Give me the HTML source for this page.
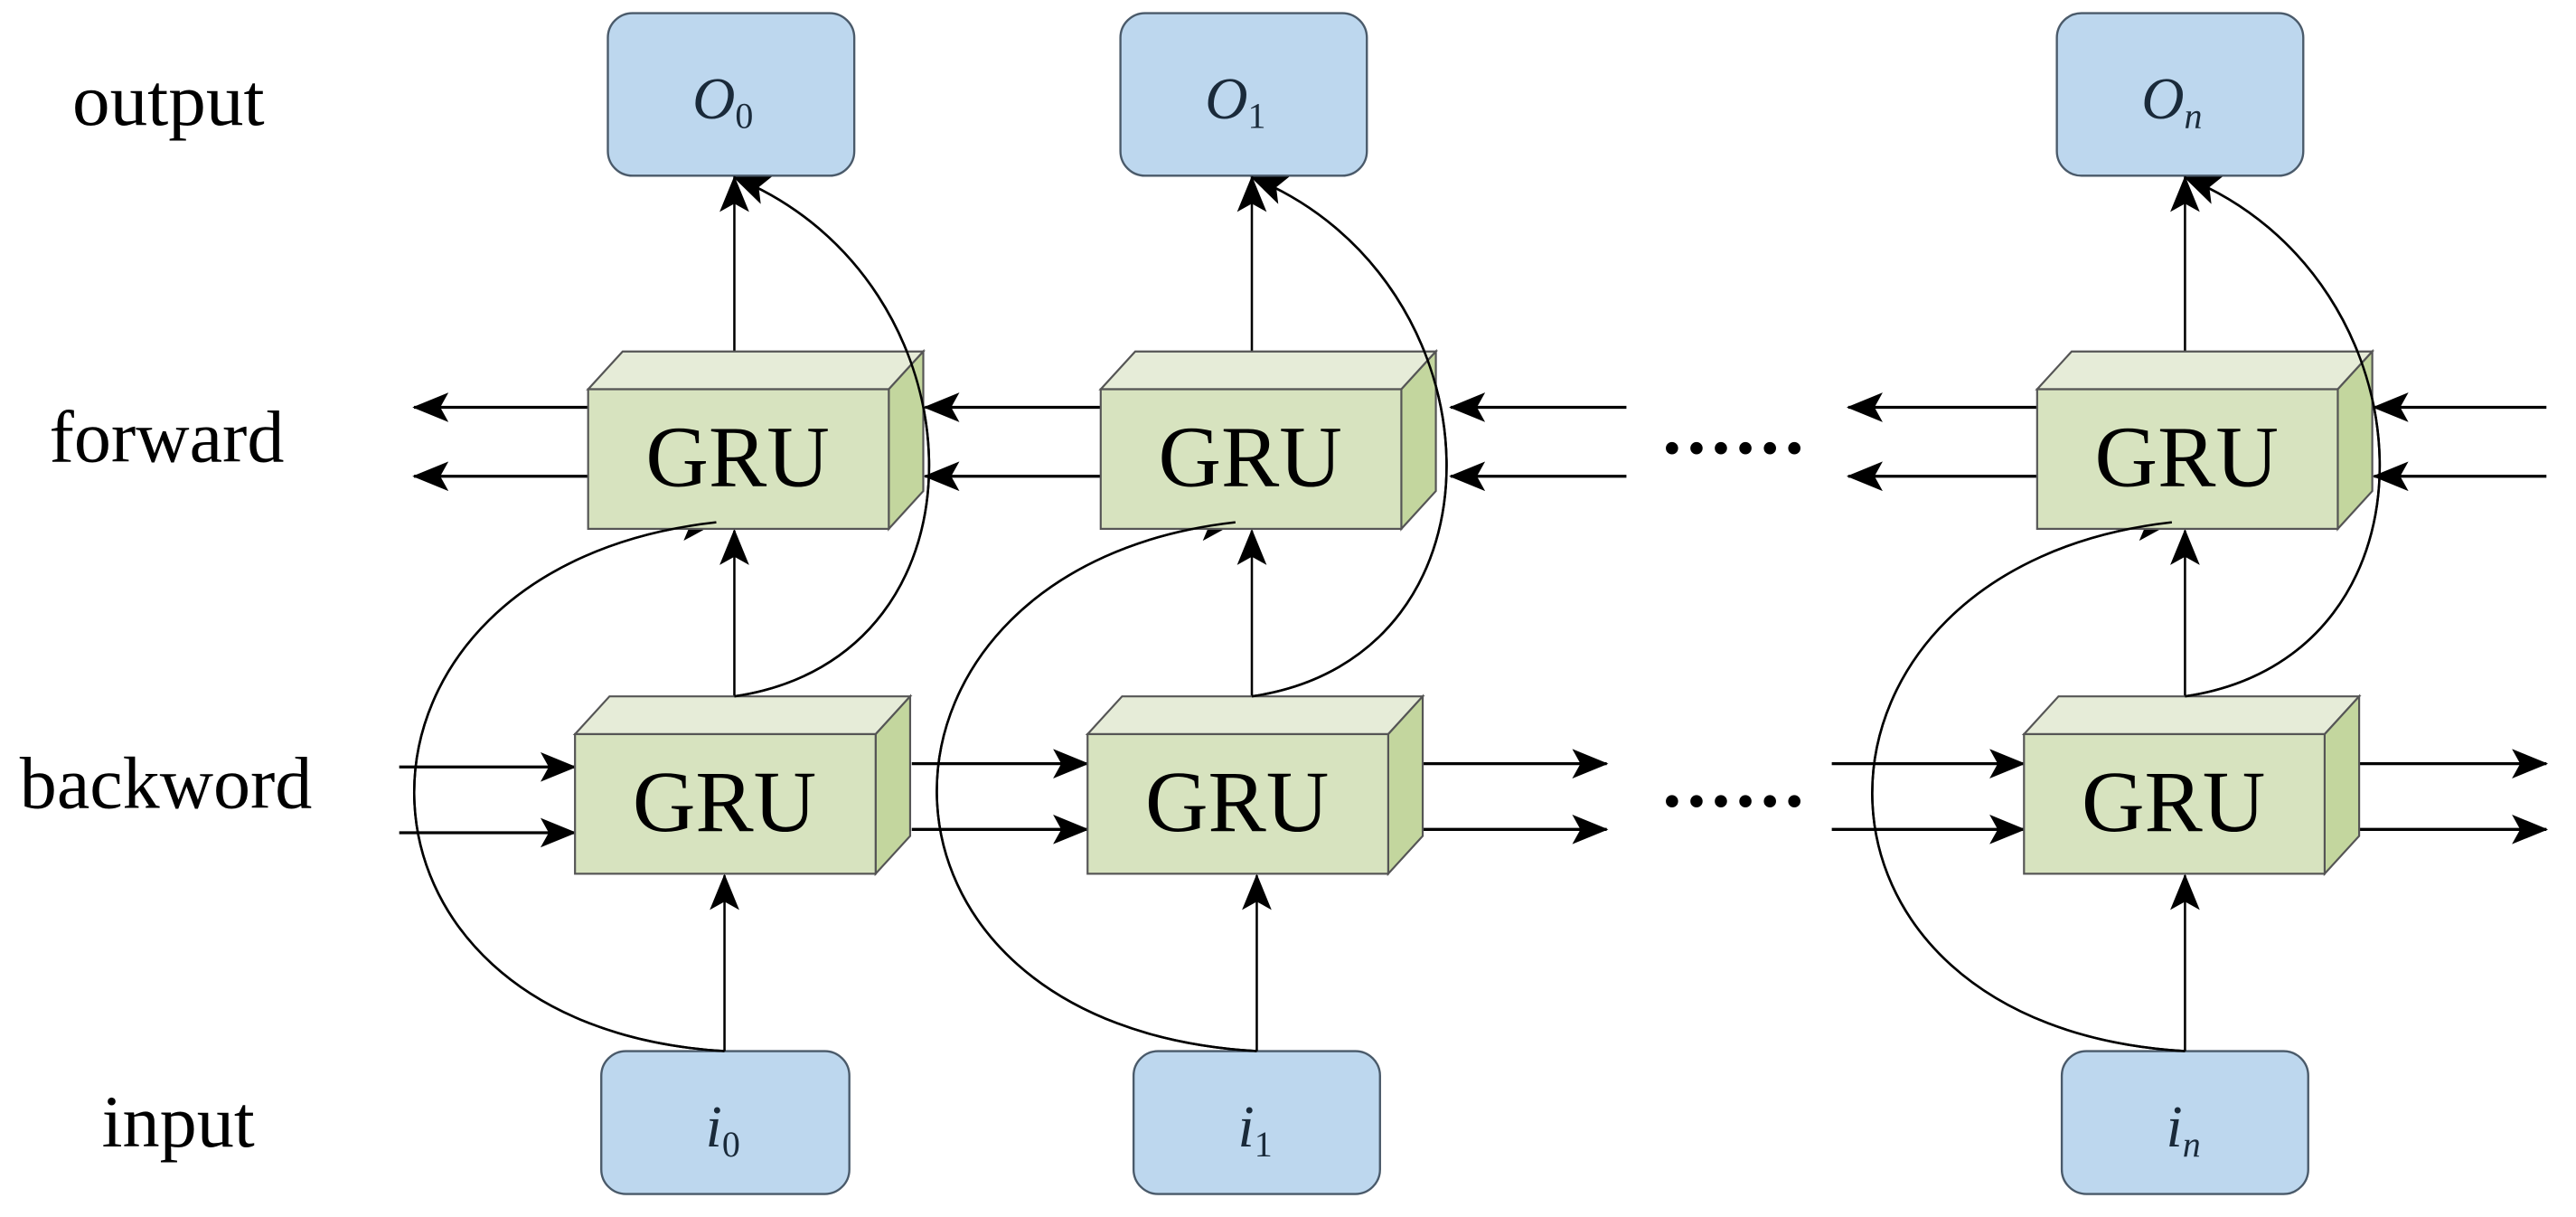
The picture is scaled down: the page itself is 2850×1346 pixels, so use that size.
<!DOCTYPE html>
<html><head><meta charset="utf-8"><style>html,body{margin:0;padding:0;background:#fff}svg{display:block}</style></head>
<body>
<svg width="2850" height="1346" viewBox="0 0 1568 741" preserveAspectRatio="none" xmlns="http://www.w3.org/2000/svg">
<defs>
<marker id="a" markerUnits="userSpaceOnUse" markerWidth="24" markerHeight="20" refX="21" refY="9" orient="auto">
<path d="M0,0 L22,9 L0,18 L5,9 Z" fill="#000"/>
</marker>
<g id="gru">
<path d="M0,0 L21,-23 L204,-23 L183,0 Z" fill="#e6ecd8" stroke="#555" stroke-width="1.2"/>
<path d="M183,0 L204,-23 L204,62 L183,85 Z" fill="#c3d69e" stroke="#555" stroke-width="1.2"/>
<rect x="0" y="0" width="183" height="85" fill="#d7e3bf" stroke="#555" stroke-width="1.2"/>
<text x="91" y="59" font-family="Liberation Serif, serif" font-size="53" text-anchor="middle">GRU</text>
</g>
</defs>
<rect width="1568" height="741" fill="#fff"/>
<g font-family="Liberation Serif, serif" font-size="45" fill="#000">
<text x="44" y="76" textLength="117" lengthAdjust="spacingAndGlyphs">output</text>
<text x="30" y="281" textLength="143" lengthAdjust="spacingAndGlyphs">forward</text>
<text x="12" y="492" textLength="178" lengthAdjust="spacingAndGlyphs">backword</text>
<text x="62" y="698" textLength="93" lengthAdjust="spacingAndGlyphs">input</text>
</g>
<g fill="#bdd7ee" stroke="#4a5a6a" stroke-width="1.3">
<rect x="370" y="8" width="150" height="99" rx="15"/>
<rect x="682" y="8" width="150" height="99" rx="15"/>
<rect x="1252" y="8" width="150" height="99" rx="15"/>
<rect x="366" y="640" width="151" height="87" rx="15"/>
<rect x="690" y="640" width="150" height="87" rx="15"/>
<rect x="1255" y="640" width="150" height="87" rx="15"/>
</g>
<g font-family="Liberation Serif, serif" font-style="italic" font-size="36" fill="#1a2a3a" text-anchor="middle">
<text x="440" y="72">O<tspan font-size="22" font-style="normal" dy="6">0</tspan></text>
<text x="752" y="72">O<tspan font-size="22" font-style="normal" dy="6">1</tspan></text>
<text x="1322" y="72">O<tspan font-size="22" dy="6">n</tspan></text>
<text x="440" y="698">i<tspan font-size="22" font-style="normal" dy="6">0</tspan></text>
<text x="764" y="698">i<tspan font-size="22" font-style="normal" dy="6">1</tspan></text>
<text x="1329" y="698">i<tspan font-size="22" dy="6">n</tspan></text>
</g>
<g stroke="#000" stroke-width="1.8" fill="none" marker-end="url(#a)">
<path d="M358,248 H252"/><path d="M358,290 H252"/>
<path d="M670,248 H563"/><path d="M670,290 H563"/>
<path d="M990,248 H883"/><path d="M990,290 H883"/>
<path d="M1240,248 H1125"/><path d="M1240,290 H1125"/>
<path d="M1550,248 H1445"/><path d="M1550,290 H1445"/>
<path d="M243,467 H350"/><path d="M243,507 H350"/>
<path d="M555,465 H662"/><path d="M555,505 H662"/>
<path d="M866,465 H978"/><path d="M866,505 H978"/>
<path d="M1115,465 H1232"/><path d="M1115,505 H1232"/>
<path d="M1436,465 H1550"/><path d="M1436,505 H1550"/>
</g>
<g stroke="#000" stroke-width="1.4" fill="none" marker-end="url(#a)">
<path d="M441,640 V533"/>
<path d="M447,424 V323"/>
<path d="M447,214 V108"/>
<path d="M441,640 C190,625 190,345 436,318"/>
<path d="M447,424 C610,400 600,170 447,108"/>
<path d="M765,640 V533"/>
<path d="M762,424 V323"/>
<path d="M762,214 V108"/>
<path d="M765,640 C505,625 510,345 752,318"/>
<path d="M762,424 C925,400 915,170 762,108"/>
<path d="M1330,640 V533"/>
<path d="M1330,424 V323"/>
<path d="M1330,214 V108"/>
<path d="M1330,640 C1075,625 1080,345 1322,318"/>
<path d="M1330,424 C1493,400 1483,170 1330,108"/>
</g>
<use href="#gru" x="358" y="237"/>
<use href="#gru" x="670" y="237"/>
<use href="#gru" x="1240" y="237"/>
<use href="#gru" x="350" y="447"/>
<use href="#gru" x="662" y="447"/>
<use href="#gru" x="1232" y="447"/>
<g stroke="#000" stroke-width="1.4" fill="none">
<path d="M441,640 C190,625 190,345 436,318"/>
<path d="M447,424 C610,400 600,170 447,108"/>
<path d="M765,640 C505,625 510,345 752,318"/>
<path d="M762,424 C925,400 915,170 762,108"/>
<path d="M1330,640 C1075,625 1080,345 1322,318"/>
<path d="M1330,424 C1493,400 1483,170 1330,108"/>
</g>
<g font-family="Liberation Serif, serif" font-size="46" font-weight="bold" fill="#000">
<text x="1012" y="276" textLength="86" lengthAdjust="spacing">......</text>
<text x="1012" y="491" textLength="86" lengthAdjust="spacing">......</text>
</g>
</svg>
</body></html>
